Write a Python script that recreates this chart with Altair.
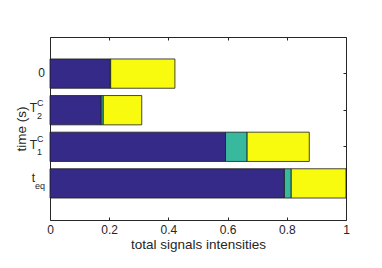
import altair as alt
import pandas as pd

# ---- data ----
categories = ["0", "T2C", "T1C", "teq"]
blue_vals = [0.202, 0.173, 0.593, 0.792]
teal_vals = [0.003, 0.007, 0.073, 0.023]
yellow_vals = [0.217, 0.130, 0.210, 0.185]

label_main = ["0", "T", "T", "t"]
label_sub = ["", "2", "1", "eq"]
label_sup = ["", "C", "C", ""]

x_ticks = [0, 0.2, 0.4, 0.6, 0.8, 1]

components = ["a", "b", "c"]
colors = ["#352a87", "#38b99e", "#f9fb0e"]

rows = []
for i, c in enumerate(categories):
    for k, (comp, vals) in enumerate(zip(components, [blue_vals, teal_vals, yellow_vals])):
        rows.append({"cat": c, "comp": comp, "k": k, "value": vals[i]})
df = pd.DataFrame(rows)

labels = pd.DataFrame({"cat": categories, "main": label_main,
                       "sub": label_sub, "sup": label_sup})

FONT = "Liberation Sans"
INK = "#262626"

yscale = alt.Scale(domain=categories, paddingInner=0.2, paddingOuter=0.6)
xscale = alt.Scale(domain=[0, 1], nice=False, zero=True)

bars = alt.Chart(df).mark_bar(stroke="#1a1a1a", strokeWidth=0.8).encode(
    x=alt.X("value:Q", stack="zero", scale=xscale,
            axis=alt.Axis(values=x_ticks, format="~g", title="total signals intensities",
                          offset=-3, tickSize=3, domain=False, grid=False, labelFlush=False,
                          labelPadding=4, titlePadding=2)),
    y=alt.Y("cat:N", sort=categories, scale=yscale,
            axis=alt.Axis(title="time (s)", labels=False, offset=-3, tickSize=3,
                          domain=False, grid=False, titlePadding=21)),
    color=alt.Color("comp:N", scale=alt.Scale(domain=components, range=colors), legend=None),
    order=alt.Order("k:Q"),
)

ghost = alt.Chart(df).mark_bar(opacity=0).encode(
    x=alt.X("value:Q", stack="zero", scale=xscale,
            axis=alt.Axis(values=x_ticks, orient="top", labels=False, title=None,
                          offset=-3, tickSize=3, domain=False, grid=False)),
    y=alt.Y("cat:N", sort=categories, scale=yscale,
            axis=alt.Axis(orient="right", labels=False, title=None,
                          offset=-3, tickSize=3, domain=False, grid=False)),
    order=alt.Order("k:Q"),
)

base = alt.Chart(labels)
ty = alt.Y("cat:N", sort=categories, scale=yscale, axis=None)

def txt(flt, field, x, align, dy, size):
    return base.transform_filter(flt).mark_text(
        align=align, baseline="middle", dy=dy, fontSize=size, font=FONT, color=INK
    ).encode(y=ty, x=alt.value(x), text=f"{field}:N")

lab0 = txt("datum.cat == '0'", "main", -5, "right", -1, 12)
labT = txt("datum.sup == 'C'", "main", -13, "right", -2, 12)
supT = txt("datum.sup == 'C'", "sup", -13, "left", -7.5, 9)
subT = txt("datum.sup == 'C'", "sub", -13, "left", 5.5, 9)
labt = txt("datum.cat == 'teq'", "main", -15, "right", -5, 12)
subt = txt("datum.cat == 'teq'", "sub", -15, "left", 3, 9)

chart = alt.layer(bars, ghost, lab0, labT, supT, subT, labt, subt).resolve_axis(
    x="independent", y="independent"
).properties(
    width=296, height=183,
    autosize=alt.AutoSizeParams(type="none"),
    padding={"left": 42, "top": 29, "right": 26, "bottom": 38},
    background="white",
).configure_view(stroke=INK, strokeWidth=1).configure_axis(
    labelFont=FONT, titleFont=FONT, labelFontSize=12, titleFontSize=13.5,
    labelColor=INK, titleColor=INK, tickColor=INK, titleFontWeight="normal",
)

chart.save("out.html", embed_options={"renderer": "svg", "actions": False})
